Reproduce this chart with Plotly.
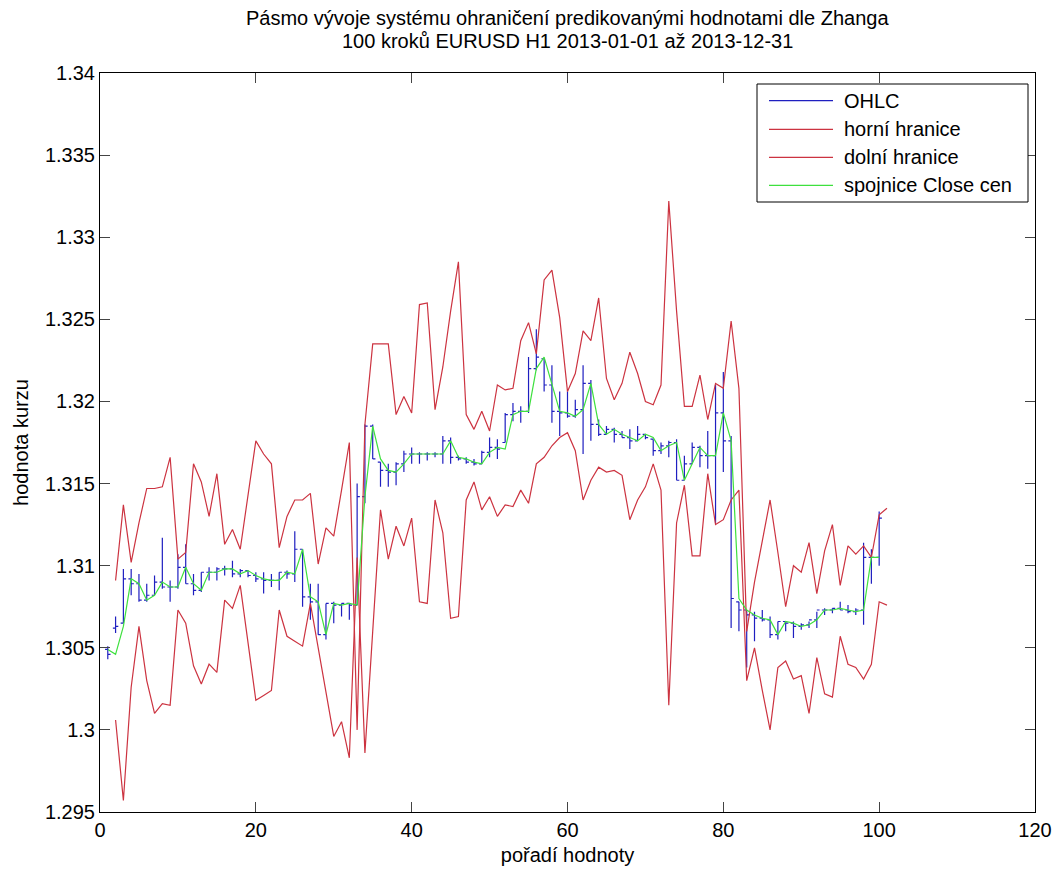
import plotly.graph_objects as go

# ---------------- data ----------------
bar_steps = list(range(1, 101))
bar_open = [1.3049, 1.3062, 1.3065, 1.3092, 1.3089, 1.3079, 1.3082, 1.3090, 1.3087, 1.3087,
            1.3099, 1.3089, 1.3085, 1.3096, 1.3096, 1.3098, 1.3098, 1.3095, 1.3097, 1.3094,
            1.3092, 1.3091, 1.3091, 1.3096, 1.3095, 1.3110, 1.3081, 1.3078, 1.3058, 1.3077,
            1.3076, 1.3077, 1.3076, 1.3142, 1.3185, 1.3163, 1.3158, 1.3157, 1.3162, 1.3168,
            1.3168, 1.3168, 1.3168, 1.3168, 1.3176, 1.3166, 1.3165, 1.3163, 1.3162, 1.3169,
            1.3172, 1.3175, 1.3192, 1.3194, 1.3194, 1.3220, 1.3226, 1.3210, 1.3194, 1.3193,
            1.3191, 1.3195, 1.3211, 1.3186, 1.3180, 1.3183, 1.3180, 1.3178, 1.3176, 1.3180,
            1.3177, 1.3170, 1.3173, 1.3175, 1.3152, 1.3162, 1.3172, 1.3167, 1.3167, 1.3193,
            1.3176, 1.3078, 1.3073, 1.3070, 1.3068, 1.3067, 1.3058, 1.3066, 1.3065, 1.3063,
            1.3064, 1.3067, 1.3073, 1.3073, 1.3074, 1.3073, 1.3072, 1.3073, 1.3105, 1.3105]
bar_high = [1.3051, 1.3069, 1.3098, 1.3098, 1.3095, 1.3089, 1.3094, 1.3117, 1.3091, 1.3107,
            1.3113, 1.3095, 1.3096, 1.3099, 1.3099, 1.3100, 1.3103, 1.3098, 1.3097, 1.3096,
            1.3096, 1.3095, 1.3096, 1.3097, 1.3121, 1.3110, 1.3089, 1.3089, 1.3077, 1.3078,
            1.3077, 1.3077, 1.3150, 1.3186, 1.3186, 1.3163, 1.3162, 1.3163, 1.3170, 1.3172,
            1.3169, 1.3169, 1.3169, 1.3179, 1.3178, 1.3167, 1.3166, 1.3165, 1.3170, 1.3178,
            1.3177, 1.3193, 1.3199, 1.3197, 1.3227, 1.3244, 1.3226, 1.3222, 1.3206, 1.3206,
            1.3201, 1.3222, 1.3213, 1.3189, 1.3185, 1.3184, 1.3182, 1.3183, 1.3185, 1.3180,
            1.3177, 1.3175, 1.3176, 1.3177, 1.3167, 1.3175, 1.3173, 1.3182, 1.3210, 1.3218,
            1.3179, 1.3078, 1.3073, 1.3072, 1.3073, 1.3069, 1.3066, 1.3066, 1.3066, 1.3065,
            1.3066, 1.3072, 1.3074, 1.3074, 1.3078, 1.3076, 1.3074, 1.3114, 1.3110, 1.3133]
bar_low = [1.3043, 1.3059, 1.3065, 1.3082, 1.3078, 1.3078, 1.3082, 1.3086, 1.3078, 1.3086,
           1.3089, 1.3082, 1.3084, 1.3091, 1.3091, 1.3094, 1.3093, 1.3093, 1.3093, 1.3090,
           1.3083, 1.3087, 1.3085, 1.3092, 1.3090, 1.3075, 1.3067, 1.3058, 1.3055, 1.3065,
           1.3069, 1.3067, 1.3076, 1.3138, 1.3165, 1.3148, 1.3148, 1.3149, 1.3157, 1.3162,
           1.3162, 1.3164, 1.3166, 1.3162, 1.3162, 1.3164, 1.3162, 1.3161, 1.3162, 1.3166,
           1.3165, 1.3175, 1.3188, 1.3187, 1.3193, 1.3219, 1.3206, 1.3187, 1.3179, 1.3190,
           1.3190, 1.3168, 1.3176, 1.3179, 1.3180, 1.3175, 1.3178, 1.3171, 1.3176, 1.3177,
           1.3167, 1.3168, 1.3166, 1.3152, 1.3152, 1.3162, 1.3160, 1.3159, 1.3126, 1.3157,
           1.3062, 1.3060, 1.3038, 1.3054, 1.3066, 1.3056, 1.3055, 1.3060, 1.3056, 1.3061,
           1.3062, 1.3062, 1.3070, 1.3071, 1.3073, 1.3071, 1.3070, 1.3064, 1.3089, 1.3100]
bar_close = [1.3046, 1.3063, 1.3092, 1.3089, 1.3079, 1.3082, 1.3090, 1.3087, 1.3087, 1.3099,
             1.3089, 1.3085, 1.3096, 1.3096, 1.3098, 1.3098, 1.3095, 1.3097, 1.3094, 1.3092,
             1.3091, 1.3091, 1.3096, 1.3095, 1.3110, 1.3081, 1.3078, 1.3058, 1.3077, 1.3076,
             1.3077, 1.3076, 1.3142, 1.3185, 1.3165, 1.3158, 1.3157, 1.3162, 1.3168, 1.3168,
             1.3168, 1.3168, 1.3168, 1.3176, 1.3166, 1.3165, 1.3163, 1.3162, 1.3169, 1.3172,
             1.3171, 1.3192, 1.3194, 1.3194, 1.3220, 1.3227, 1.3210, 1.3194, 1.3193, 1.3191,
             1.3195, 1.3211, 1.3186, 1.3180, 1.3183, 1.3180, 1.3178, 1.3176, 1.3180, 1.3178,
             1.3170, 1.3173, 1.3175, 1.3152, 1.3162, 1.3172, 1.3167, 1.3167, 1.3193, 1.3176,
             1.3080, 1.3073, 1.3070, 1.3068, 1.3067, 1.3058, 1.3066, 1.3065, 1.3063, 1.3064,
             1.3067, 1.3073, 1.3073, 1.3074, 1.3073, 1.3072, 1.3073, 1.3105, 1.3105, 1.3129]

# close-price connecting line (drawn one step after each bar)
close_line_steps = list(range(1, 101))
close_line_start = 1.3049

# prediction band (steps 2..101)
band_steps = list(range(2, 102))
upper_bound = [1.3091, 1.3137, 1.3102, 1.3126, 1.3147, 1.3147, 1.3148, 1.3166, 1.3104, 1.3108,
               1.3162, 1.3151, 1.3130, 1.3156, 1.3113, 1.3122, 1.3110, 1.3142, 1.3176, 1.3168,
               1.3162, 1.3111, 1.3130, 1.3140, 1.3140, 1.3144, 1.3101, 1.3123, 1.3118, 1.3146,
               1.3175, 1.3000, 1.3186, 1.3235, 1.3235, 1.3235, 1.3192, 1.3203, 1.3193, 1.3259,
               1.3260, 1.3195, 1.3221, 1.3255, 1.3285, 1.3192, 1.3183, 1.3194, 1.3182, 1.3210,
               1.3207, 1.3208, 1.3237, 1.3248, 1.3229, 1.3274, 1.3280, 1.3251, 1.3206, 1.3217,
               1.3243, 1.3237, 1.3263, 1.3214, 1.3201, 1.3211, 1.3230, 1.3217, 1.3200, 1.3198,
               1.3210, 1.3322, 1.3255, 1.3197, 1.3197, 1.3216, 1.3189, 1.3211, 1.3208, 1.3249,
               1.3208, 1.3060, 1.3090, 1.3115, 1.3140, 1.3108, 1.3075, 1.3100, 1.3096, 1.3114,
               1.3083, 1.3109, 1.3125, 1.3088, 1.3112, 1.3107, 1.3112, 1.3105, 1.3131, 1.3135]
lower_bound = [1.3006, 1.2957, 1.3026, 1.3063, 1.3030, 1.3010, 1.3016, 1.3015, 1.3073, 1.3065,
               1.3039, 1.3028, 1.3040, 1.3035, 1.3079, 1.3074, 1.3088, 1.3054, 1.3018, 1.3021,
               1.3024, 1.3073, 1.3057, 1.3054, 1.3051, 1.3077, 1.3050, 1.3023, 1.2996, 1.3005,
               1.2983, 1.3105, 1.2986, 1.3060, 1.3134, 1.3104, 1.3124, 1.3112, 1.3129, 1.3078,
               1.3077, 1.3140, 1.3120, 1.3068, 1.3069, 1.3140, 1.3151, 1.3134, 1.3142, 1.3130,
               1.3137, 1.3136, 1.3146, 1.3138, 1.3162, 1.3166, 1.3173, 1.3178, 1.3181, 1.3170,
               1.3140, 1.3152, 1.3160, 1.3157, 1.3158, 1.3155, 1.3128, 1.3140, 1.3148, 1.3162,
               1.3146, 1.3015, 1.3126, 1.3149, 1.3106, 1.3106, 1.3156, 1.3125, 1.3128, 1.3140,
               1.3146, 1.3030, 1.3050, 1.3024, 1.3000, 1.3038, 1.3042, 1.3031, 1.3033, 1.3010,
               1.3044, 1.3022, 1.3020, 1.3057, 1.3040, 1.3038, 1.3031, 1.3040, 1.3078, 1.3076]

series_names = ["OHLC", "horní hranice", "dolní hranice", "spojnice Close cen"]
x_tick_values = [0, 20, 40, 60, 80, 100, 120]
y_tick_values = [1.295, 1.3, 1.305, 1.31, 1.315, 1.32, 1.325, 1.33, 1.335, 1.34]
y_tick_labels = ["1.295", "1.3", "1.305", "1.31", "1.315", "1.32", "1.325", "1.33", "1.335", "1.34"]

title_lines = ["Pásmo vývoje systému ohraničení predikovanými hodnotami dle Zhanga",
               "100 kroků EURUSD H1 2013-01-01 až 2013-12-31"]

# ---------------- styling ----------------
BLUE = "#1f1fc0"
RED = "#cc3340"
GREEN = "#3ee03e"
FONT = "Liberation Sans, Arial, sans-serif"
FS = 20
LW = 1.2

close_line = [close_line_start] + bar_close[:-1]

fig = go.Figure()
fig.add_trace(go.Ohlc(
    x=bar_steps, open=bar_open, high=bar_high, low=bar_low, close=bar_close,
    increasing=dict(line=dict(color=BLUE, width=LW)),
    decreasing=dict(line=dict(color=BLUE, width=LW)),
    tickwidth=0.35, name=series_names[0], showlegend=False, hoverinfo="skip"))
fig.add_trace(go.Scatter(x=band_steps, y=upper_bound, mode="lines",
                         line=dict(color=RED, width=LW), name=series_names[1], showlegend=False))
fig.add_trace(go.Scatter(x=band_steps, y=lower_bound, mode="lines",
                         line=dict(color=RED, width=LW), name=series_names[2], showlegend=False))
fig.add_trace(go.Scatter(x=close_line_steps, y=close_line, mode="lines",
                         line=dict(color=GREEN, width=LW), name=series_names[3], showlegend=False))

# ---------------- manual MATLAB-style legend ----------------
L, R, T, B = 100, 1035, 73, 812
def px(xp):
    return (xp - L) / (R - L)
def py(yp):
    return (B - yp) / (B - T)

legend_colors = [BLUE, RED, RED, GREEN]
row_y = [100.7, 129.3, 157.3, 185.3]
shapes = [dict(type="rect", xref="paper", yref="paper",
               x0=px(757), x1=px(1028), y0=py(202), y1=py(84),
               line=dict(color="black", width=1), fillcolor="white", layer="above")]
annotations = []
for name, col, yy in zip(series_names, legend_colors, row_y):
    shapes.append(dict(type="line", xref="paper", yref="paper",
                       x0=px(769), x1=px(833), y0=py(yy), y1=py(yy),
                       line=dict(color=col, width=LW), layer="above"))
    annotations.append(dict(xref="paper", yref="paper", x=px(842), y=py(yy),
                            xanchor="left", yanchor="middle", text=name, showarrow=False,
                            font=dict(family=FONT, size=FS, color="black")))

# two-line title as centred texts above the axes
for line_text, yy in zip(title_lines, [18, 41]):
    annotations.append(dict(xref="paper", yref="paper", x=0.5, y=py(yy),
                            xanchor="center", yanchor="middle", text=line_text,
                            showarrow=False, font=dict(family=FONT, size=FS, color="black")))

fig.update_layout(
    width=1059, height=869,
    margin=dict(l=L, r=1059 - R, t=T, b=869 - B),
    paper_bgcolor="white", plot_bgcolor="white",
    font=dict(family=FONT, size=FS, color="black"),
    shapes=shapes, annotations=annotations,
    showlegend=False,
)
fig.update_xaxes(range=[0, 120], tickvals=x_tick_values, ticks="inside", ticklen=10,
                 showline=True, linecolor="black", linewidth=1, mirror="ticks",
                 showgrid=False, zeroline=False, rangeslider=dict(visible=False),
                 automargin=False,
                 title=dict(text="pořadí hodnoty", font=dict(size=FS), standoff=7),
                 tickfont=dict(size=FS))
fig.update_yaxes(range=[1.295, 1.34], tickvals=y_tick_values, ticktext=y_tick_labels,
                 ticks="inside", ticklen=10, automargin=False,
                 showline=True, linecolor="black", linewidth=1, mirror="ticks",
                 showgrid=False, zeroline=False,
                 title=dict(text="hodnota kurzu", font=dict(size=FS), standoff=10),
                 tickfont=dict(size=FS))

fig.write_html("out.html")
